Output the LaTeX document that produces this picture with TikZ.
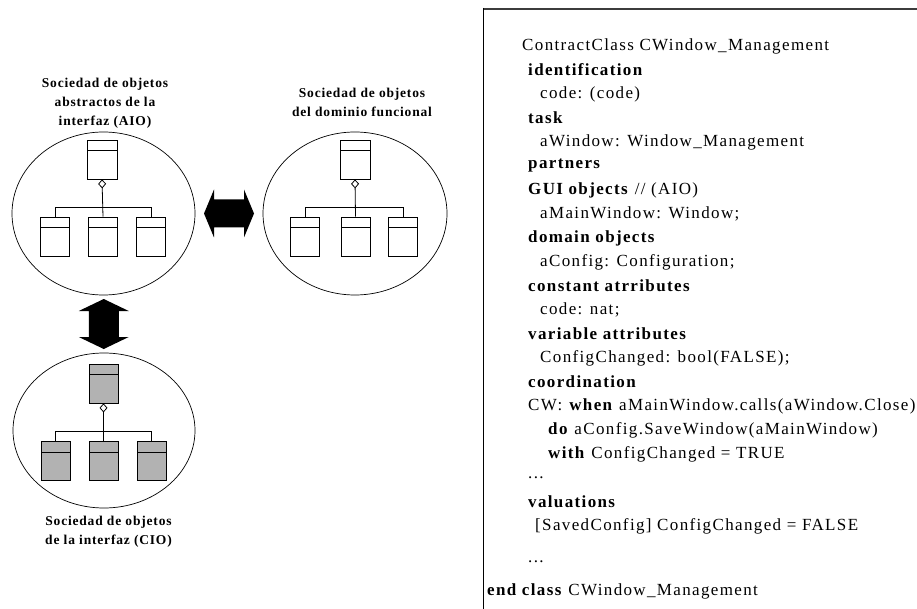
\documentclass[tikz,border=0pt]{standalone}
\usepackage{fontspec}
\setmainfont{Liberation Serif}
\newfontfamily\codefont[LetterSpace=8]{Liberation Serif}
\newfontfamily\labelfont[LetterSpace=6]{Liberation Serif}
\usetikzlibrary{shapes.geometric,arrows.meta,calc}
\definecolor{clsgray}{RGB}{178,178,178}
\definecolor{framegray}{RGB}{60,60,60}
\begin{document}
\begin{tikzpicture}[x=1pt,y=-1pt,
  soc/.style={ellipse,draw,line width=0.7pt,inner sep=0pt},
  cls/.style={rectangle,draw,line width=0.8pt,minimum width=29pt,minimum height=39pt,inner sep=0pt,
    path picture={\draw[line width=0.8pt] ([yshift=-10.5pt]path picture bounding box.north west) -- ([yshift=-10.5pt]path picture bounding box.north east);}},
  ccls/.style={cls,fill=clsgray},
  tree/.style={line width=0.8pt},
  agg/.style={tree,{Diamond[open,length=9pt,width=8pt]}-},
  lbl/.style={font={\labelfont\bfseries\fontsize{13.5}{19}\selectfont},align=center,inner sep=0pt},
  ln/.style={anchor=west,inner sep=0pt,font={\codefont\fontsize{17}{19}\selectfont}},
  blockarrow/.style={fill=black}
]
\useasboundingbox (0,0) rectangle (917,609);

% frame of the contract box (only top and left edges visible)
\draw[framegray,line width=2pt] (917,9) -- (483.5,9);
\draw[black,line width=1.2pt] (483.5,8) -- (483.5,609);

% --- AIO society
\node[soc,minimum width=183pt,minimum height=163pt] (aio) at (103.5,213.5) {};
\node[cls,minimum width=30pt] (at) at (102,159.5) {};
\node[cls] (ab1) at (55,236.5) {};
\node[cls] (ab2) at (103,236.5) {};
\node[cls] (ab3) at (151,236.5) {};
\draw[agg] (at.south) -- (ab2.north);
\draw[tree] (ab1.north) -- ++(0,-9) -| (ab3.north);
\node[lbl] (aiolbl) at (105,103) {Sociedad de objetos\\abstractos de la\\interfaz (AIO)};

% --- domain society
\node[soc,minimum width=184pt,minimum height=163pt] (dom) at (355,213.5) {};
\node[cls,minimum width=30pt] (dt) at (355,159.5) {};
\node[cls] (db1) at (305,236.5) {};
\node[cls] (db2) at (355.5,236.5) {};
\node[cls] (db3) at (403,236.5) {};
\draw[agg] (dt.south) -- (db2.north);
\draw[tree] (db1.north) -- ++(0,-9) -| (db3.north);
\node[lbl] (domlbl) at (362,102.5) {Sociedad de objetos\\del dominio funcional};

% --- CIO society
\node[soc,minimum width=182pt,minimum height=155pt] (cio) at (104,430.5) {};
\node[ccls] (ct) at (103.5,383.5) {};
\node[ccls] (cb1) at (55.5,461) {};
\node[ccls] (cb2) at (103.5,461) {};
\node[ccls] (cb3) at (151.5,461) {};
\draw[agg] (ct.south) -- (cb2.north);
\draw[tree] (cb1.north) -- ++(0,-10) -| (cb3.north);
\node[lbl] (ciolbl) at (108.5,532) {Sociedad de objetos\\de la interfaz (CIO)};

% --- block double arrows between societies
\coordinate (harr) at ($(aio.east)!0.5!(dom.west)$);
\coordinate (varr) at ($(aio.south)!0.5!(cio.north)$);
\fill[blockarrow] (harr) ++(-25,0) -- ++(10,-24) -- ++(0,10) -- ++(30,0) -- ++(0,-10)
  -- ++(10,24) -- ++(-10,24) -- ++(0,-10) -- ++(-30,0) -- ++(0,10) -- cycle;
\fill[blockarrow] (varr) ++(0,-25) -- ++(25,12) -- ++(-10,0) -- ++(0,26) -- ++(10,0)
  -- ++(-25,12) -- ++(-25,-12) -- ++(10,0) -- ++(0,-26) -- ++(-10,0) -- cycle;

% --- contract class text
\node[ln] (l1)  at (522,46)  {ContractClass CWindow\_Management};
\node[ln] (l2)  at (528,70)  {\textbf{identification}};
\node[ln] (l3)  at (540,94)  {code: (code)};
\node[ln] (l4)  at (528,118) {\textbf{task}};
\node[ln] (l5)  at (540,142) {aWindow: Window\_Management};
\node[ln] (l6)  at (528,166) {\textbf{partners}};
\node[ln] (l7)  at (528,190) {\textbf{GUI objects} // (AIO)};
\node[ln] (l8)  at (540,214) {aMainWindow: Window;};
\node[ln] (l9)  at (528,238) {\textbf{domain objects}};
\node[ln] (l10) at (540,262) {aConfig: Configuration;};
\node[ln] (l11) at (528,286) {\textbf{constant atrributes}};
\node[ln] (l12) at (540,310) {code: nat;};
\node[ln] (l13) at (528,334) {\textbf{variable attributes}};
\node[ln] (l14) at (540,358) {ConfigChanged: bool(FALSE);};
\node[ln] (l15) at (528,382) {\textbf{coordination}};
\node[ln] (l16) at (528,406) {CW: \textbf{when} aMainWindow.calls(aWindow.Close)};
\node[ln] (l17) at (548,430) {\textbf{do} aConfig.SaveWindow(aMainWindow)};
\node[ln] (l18) at (548,454) {\textbf{with} ConfigChanged = TRUE};
\node[ln] (l19) at (528,478) {...};
\node[ln] (l20) at (528,502) {\textbf{valuations}};
\node[ln] (l21) at (535,526) {[SavedConfig] ConfigChanged = FALSE};
\node[ln] (l22) at (528,562) {...};
\node[ln] (l23) at (487,591) {\textbf{end class} CWindow\_Management};
\end{tikzpicture}
\end{document}
